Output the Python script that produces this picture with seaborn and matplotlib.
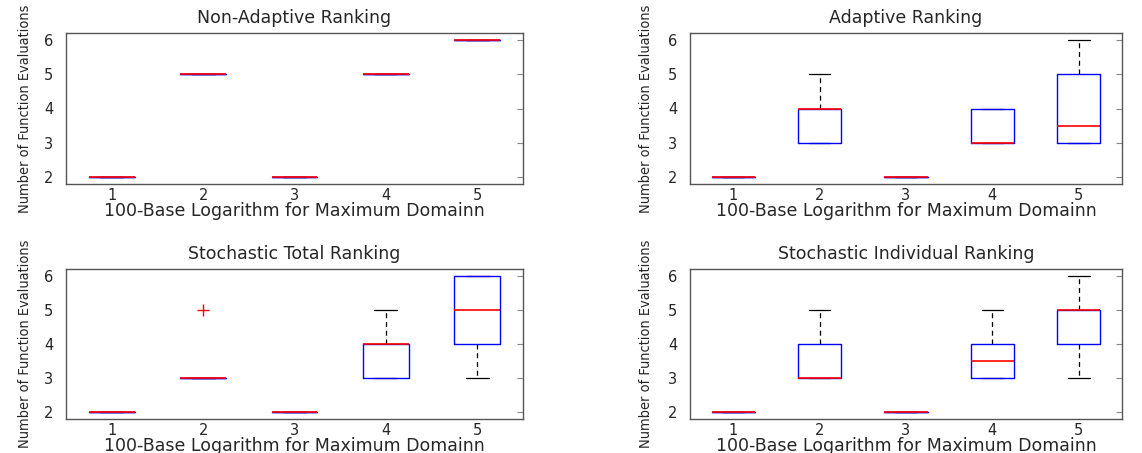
import matplotlib
matplotlib.use("Agg")
import matplotlib.pyplot as plt
import seaborn as sns
import pandas as pd
from matplotlib import font_manager
from matplotlib.font_manager import FontProperties

# ---- data (number of function evaluations per run, 10 runs per domain) ----
domains = [1, 2, 3, 4, 5]
titles = ["Non-Adaptive Ranking", "Adaptive Ranking",
          "Stochastic Total Ranking", "Stochastic Individual Ranking"]

non_adaptive = [
    [2, 2, 2, 2, 2, 2, 2, 2, 2, 2],
    [5, 5, 5, 5, 5, 5, 5, 5, 5, 5],
    [2, 2, 2, 2, 2, 2, 2, 2, 2, 2],
    [5, 5, 5, 5, 5, 5, 5, 5, 5, 5],
    [6, 6, 6, 6, 6, 6, 6, 6, 6, 6],
]
adaptive = [
    [2, 2, 2, 2, 2, 2, 2, 2, 2, 2],
    [3, 3, 3, 3, 4, 4, 4, 4, 5, 5],
    [2, 2, 2, 2, 2, 2, 2, 2, 2, 2],
    [3, 3, 3, 3, 3, 3, 4, 4, 4, 4],
    [3, 3, 3, 3, 3, 4, 5, 5, 6, 6],
]
stochastic_total = [
    [2, 2, 2, 2, 2, 2, 2, 2, 2, 2],
    [3, 3, 3, 3, 3, 3, 3, 3, 3, 5],
    [2, 2, 2, 2, 2, 2, 2, 2, 2, 2],
    [3, 3, 3, 3, 4, 4, 4, 4, 5, 5],
    [3, 4, 4, 4, 5, 5, 6, 6, 6, 6],
]
stochastic_individual = [
    [2, 2, 2, 2, 2, 2, 2, 2, 2, 2],
    [3, 3, 3, 3, 3, 3, 4, 4, 5, 5],
    [2, 2, 2, 2, 2, 2, 2, 2, 2, 2],
    [3, 3, 3, 3, 3, 4, 4, 4, 5, 5],
    [3, 4, 4, 4, 5, 5, 5, 5, 6, 6],
]
yticks = [2, 3, 4, 5, 6]
xlabel = "100-Base Logarithm for Maximum Domainn"
ylabel = "Number of Function Evaluations"

sns.set_style("white")
plt.rcParams["font.family"] = ["DejaVu Sans"]

# pick a narrow font for the y label if one is installed
narrow_prop = None
for f in font_manager.fontManager.ttflist:
    low = f.fname.lower()
    if "narrow" in low or "condensed" in low:
        if "bold" not in low and "italic" not in low and "oblique" not in low:
            narrow_prop = FontProperties(fname=f.fname)
            break
if narrow_prop is None:
    narrow_prop = FontProperties(family="Liberation Sans")

W, H = 1142, 453
fig = plt.figure(figsize=(W / 100, H / 100), dpi=100)
# axes boxes in pixels: left, top, right, bottom
boxes_px = [
    (66, 33, 523, 184),
    (690, 33, 1122, 184),
    (66, 269, 523, 419),
    (690, 269, 1122, 419),
]
ylabel_right_px = [32, 653, 32, 653]
all_data = [non_adaptive, adaptive, stochastic_total, stochastic_individual]

axes = []
for (l, t, r, b), title, series, ylr in zip(boxes_px, titles, all_data, ylabel_right_px):
    ax = fig.add_axes([l / W, 1 - b / H, (r - l) / W, (b - t) / H])
    axes.append(ax)
    rows = []
    for d, vals in zip(domains, series):
        for v in vals:
            rows.append({"domain": d, "evals": v})
    df = pd.DataFrame(rows)
    sns.boxplot(
        data=df, x="domain", y="evals", ax=ax, order=domains,
        fill=False, width=0.5, whis=1.5, linewidth=1.0, color="#0000ff",
        boxprops=dict(color="#0000ff", linewidth=1.0, zorder=3),
        medianprops=dict(color="#ff0000", linewidth=1.0, zorder=4),
        whiskerprops=dict(color="black", linestyle=(0, (4, 3)), linewidth=0.9, zorder=2),
        capprops=dict(color="black", linewidth=0.9, zorder=2),
        flierprops=dict(marker="+", markeredgecolor="#ff0000",
                        markerfacecolor="none", markersize=9, markeredgewidth=1.0),
    )
    # keep the red medians on top of the blue box outlines
    for cont in ax.containers:
        meds = getattr(cont, "medians", None)
        if meds is not None:
            for m in meds:
                m.set_zorder(6)
                m.set_linewidth(1.2)
                m.set_color("#ff0000")
    ax.set_xlim(-0.5, 4.5)
    ax.set_ylim(1.8, 6.2)
    ax.set_yticks(yticks)
    ax.set_yticklabels([str(t) for t in yticks], fontsize=10.5)
    ax.set_xticks(range(len(domains)))
    ax.set_xticklabels([str(d) for d in domains], fontsize=10.5)
    ax.tick_params(axis="y", direction="in", length=4, width=0.8,
                   color="#888888", right=True, pad=9)
    ax.tick_params(axis="x", length=0, pad=3)
    for s in ax.spines.values():
        s.set_color("#555555")
        s.set_linewidth(1.0)
    ax.set_title(title, fontsize=12.5, pad=7)
    ax.set_xlabel(xlabel, fontsize=12.5, labelpad=-1)
    lab = ax.set_ylabel(ylabel, fontproperties=narrow_prop)
    lab.set_fontsize(11)
    ax.yaxis.set_label_coords((ylr - l) / (r - l), 0.5)

# scale the y label so that its length is close to the reference
fig.canvas.draw()
renderer = fig.canvas.get_renderer()
for ax in axes:
    lab = ax.yaxis.label
    ext = lab.get_window_extent(renderer)
    size = lab.get_fontsize() * 208.0 / max(ext.height, 1)
    lab.set_fontsize(size)

fig.savefig("out.png", dpi=100)
